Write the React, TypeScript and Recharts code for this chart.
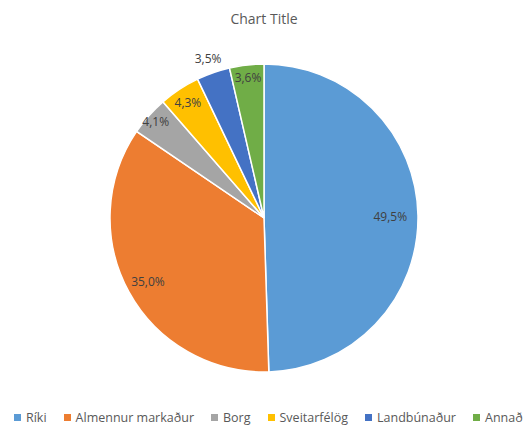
import { PieChart, Pie, Cell, Legend } from 'recharts';

const categories = ['Ríki', 'Almennur markaður', 'Borg', 'Sveitarfélög', 'Landbúnaður', 'Annað'];
const shares = [49.5, 35.0, 4.1, 4.3, 3.5, 3.6];
const colors = ['#5B9BD5', '#ED7D31', '#A5A5A5', '#FFC000', '#4472C4', '#70AD47'];
// how far out each label sits, as a fraction of the radius
const labelRadius = [0.82, 0.86, 0.94, 0.9, 1.1, 0.92];

const data = categories.map((name, i) => ({ name, value: shares[i] }));

const RADIAN = Math.PI / 180;
const TEXT = '#595959';
const FONT = '"Open Sans", "Liberation Sans", sans-serif';

const renderLabel = (props: any) => {
    const { cx, cy, midAngle, outerRadius, index, value } = props;
    const r = outerRadius * labelRadius[index];
    const x = cx + r * Math.cos(-midAngle * RADIAN);
    const y = cy + r * Math.sin(-midAngle * RADIAN);
    return (
        <text x={x} y={y} fill="#404040" fontSize={12} fontFamily={FONT} textAnchor="middle" dominantBaseline="central">
            {value.toFixed(1).replace('.', ',')}%
        </text>
    );
};

const renderLegend = () => (
    <div style={{ display: 'flex', justifyContent: 'flex-start', paddingLeft: 14, gap: 17, fontFamily: FONT, fontSize: 12.5, color: TEXT, whiteSpace: 'nowrap' }}>
        {categories.map((c, i) => (
            <span key={c} style={{ display: 'inline-flex', alignItems: 'center' }}>
                <span style={{ width: 7, height: 7, background: colors[i], marginRight: 5, display: 'inline-block' }} />
                {c}
            </span>
        ))}
    </div>
);

export default function App() {
    return (
        <div style={{ position: 'absolute', left: 0, top: 0, width: 528, height: 426, background: '#fff', overflow: 'hidden' }}>
            <PieChart width={528} height={426} margin={{ top: 0, right: 0, bottom: 0, left: 0 }}>
                <text x={264} y={18} textAnchor="middle" dominantBaseline="central" fontSize={14} fill={TEXT} fontFamily={FONT}>
                    Chart Title
                </text>
                <Pie
                    data={data}
                    dataKey="value"
                    nameKey="name"
                    cx={264}
                    cy={218}
                    outerRadius={154}
                    startAngle={90}
                    endAngle={-270}
                    stroke="#fff"
                    strokeWidth={1.5}
                    label={renderLabel}
                    labelLine={false}
                    isAnimationActive={false}
                >
                    {data.map((d, i) => (
                        <Cell key={d.name} fill={colors[i]} />
                    ))}
                </Pie>
                <Legend content={renderLegend} wrapperStyle={{ top: 409, left: 0, width: 528 }} />
            </PieChart>
        </div>
    );
}
